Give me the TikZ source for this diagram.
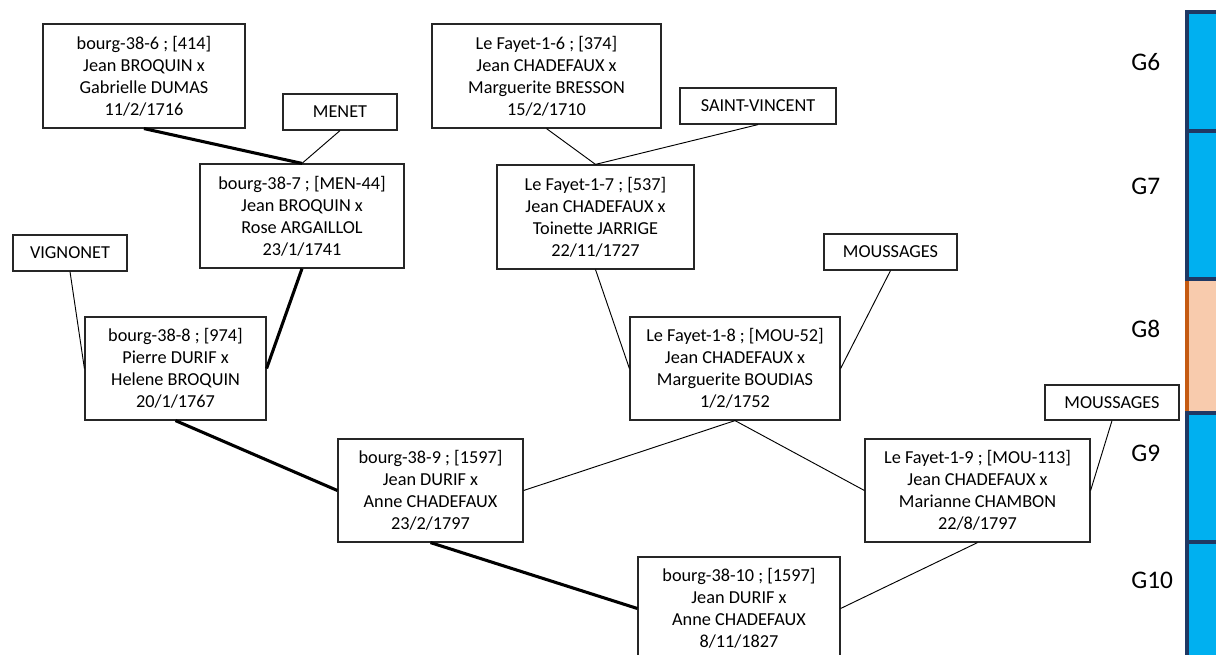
\documentclass[tikz,border=0pt]{standalone}
\usepackage{fontspec}
\setmainfont{Carlito}
\definecolor{navy}{HTML}{1F3864}
\definecolor{barblue}{HTML}{00B0F0}
\definecolor{peach}{HTML}{F8CBAD}
\definecolor{rust}{HTML}{C55A11}
\tikzset{
  box/.style 2 args={draw=black!85, line width=0.9pt, rectangle, inner sep=0pt,
    minimum width=#1*0.75pt, minimum height=#2*0.75pt, align=center,
    font=\fontsize{13.7}{16.5}\selectfont},
  thick link/.style={line width=2.3pt},
  thin link/.style={line width=0.7pt},
  gen/.style={anchor=west, inner sep=0pt, font=\fontsize{19}{22}\selectfont},
  seg/.style={draw=navy, line width=3pt, fill=barblue},
}
\begin{document}
\begin{tikzpicture}[x=0.75pt,y=-0.75pt]
\path[use as bounding box] (0,0) rectangle (1216,655);
\clip (0,0) rectangle (1216,655);

% generation bar
\path[draw=rust, line width=3pt, fill=peach] (1187,279) rectangle (1240,413);
\path[seg] (1187,12) rectangle (1240,131);
\path[seg] (1187,131) rectangle (1240,279);
\path[seg] (1187,413) rectangle (1240,542);
\path[seg] (1187,542) rectangle (1240,680);
\draw[navy, line width=3pt] (1187,279) -- (1240,279);
\draw[navy, line width=3pt] (1187,413) -- (1240,413);

\node[gen] (g6) at (1131,62) {G6};
\node[gen] (g7) at (1131,186) {G7};
\node[gen] (g8) at (1131,329) {G8};
\node[gen] (g9) at (1131,453) {G9};
\node[gen] (g10) at (1131,580) {G10};

% nodes
\node[box={202}{104}] (b6) at (144,76) {bourg-38-6 ; [414]\\Jean BROQUIN x\\Gabrielle DUMAS\\11/2/1716};
\node[box={114}{36}] (menet) at (340,112) {MENET};
\node[box={204}{104}] (b7) at (302,216) {bourg-38-7 ; [MEN-44]\\Jean BROQUIN x\\Rose ARGAILLOL\\23/1/1741};
\node[box={114}{36}] (vign) at (70,253) {VIGNONET};
\node[box={229}{104}] (f6) at (546.5,76) {Le Fayet-1-6 ; [374]\\Jean CHADEFAUX x\\Marguerite BRESSON\\15/2/1710};
\node[box={156}{36}] (sv) at (758,106) {SAINT-VINCENT};
\node[box={197}{104}] (f7) at (595.5,217) {Le Fayet-1-7 ; [537]\\Jean CHADEFAUX x\\Toinette JARRIGE\\22/11/1727};
\node[box={181}{103}] (b8) at (175.5,368.5) {bourg-38-8 ; [974]\\Pierre DURIF x\\Helene BROQUIN\\20/1/1767};
\node[box={185}{103}] (b9) at (430.5,490.5) {bourg-38-9 ; [1597]\\Jean DURIF x\\Anne CHADEFAUX\\23/2/1797};
\node[box={133}{36}] (mou1) at (890.5,252) {MOUSSAGES};
\node[box={210}{103}] (f8) at (735,368.5) {Le Fayet-1-8 ; [MOU-52]\\Jean CHADEFAUX x\\Marguerite BOUDIAS\\1/2/1752};
\node[box={134}{35}] (mou2) at (1112,402.5) {MOUSSAGES};
\node[box={225}{103}] (f9) at (977.5,490.5) {Le Fayet-1-9 ; [MOU-113]\\Jean CHADEFAUX x\\Marianne CHAMBON\\22/8/1797};
\node[box={202}{103}] (b10) at (739,608.5) {bourg-38-10 ; [1597]\\Jean DURIF x\\Anne CHADEFAUX\\8/11/1827};

% links
\draw[thick link] (b6.south) -- (b7.north);
\draw[thin link] (menet.south) -- (b7.north);
\draw[thick link] (b7.south) -- (b8.east);
\draw[thin link] (vign.south) -- (b8.west);
\draw[thick link] (b8.south) -- (b9.west);
\draw[thick link] (b9.south) -- (b10.west);
\draw[thin link] (f6.south) -- (f7.north);
\draw[thin link] (sv.south) -- (f7.north);
\draw[thin link] (f7.south) -- (f8.west);
\draw[thin link] (mou1.south) -- (f8.east);
\draw[thin link] (f8.south) -- (b9.east);
\draw[thin link] (f8.south) -- (f9.west);
\draw[thin link] (mou2.south) -- (f9.east);
\draw[thin link] (f9.south) -- (b10.east);
\end{tikzpicture}
\end{document}
